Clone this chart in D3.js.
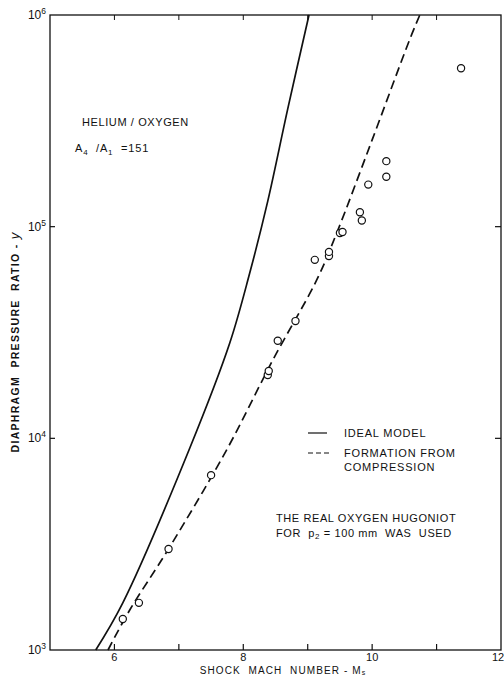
<!DOCTYPE html>
<html><head><meta charset="utf-8">
<script src="https://cdn.jsdelivr.net/npm/d3@7"></script>
<style>
html,body{margin:0;padding:0;background:#fff;}
svg{display:block;}
text{font-family:"Liberation Sans",Arial,sans-serif;fill:#111;}
</style></head>
<body>
<svg id="c" width="504" height="676"></svg>
<script>
// Ideal model (solid) curve
const idealM = [5.71, 6.13, 7.17, 7.79, 8.10, 8.38, 8.69, 9.02];
const idealP = [1000, 1670, 9000, 28200, 60400, 132000, 360000, 1000000];
// Formation from compression (dashed) curve
const dashM = [5.90, 6.24, 6.83, 7.74, 8.46, 9.14, 9.45, 10.0, 10.58, 10.74];
const dashP = [1000, 1550, 2970, 8800, 23500, 56000, 93300, 257000, 762000, 1000000];
// Measured points
const ptM = [6.13, 6.38, 6.84, 7.50, 8.38, 8.395, 8.535, 8.81, 9.11, 9.33, 9.33, 9.50, 9.54, 9.81, 9.84, 9.94, 10.22, 10.22, 11.38];
const ptP = [1400, 1670, 3000, 6700, 19900, 20800, 28900, 35800, 69700, 72600, 76000, 93400, 94400, 117000, 107000, 158000, 172000, 204000, 560000];
// Ticks
const xTicks = [6, 7, 8, 9, 10, 11];
const xLabels = [6, 8, 10, 12];
const yLabels = [3, 4, 5, 6];

const svg = d3.select("#c");
const x = d3.scaleLinear().domain([5, 12]).range([50, 501]);
const y = d3.scaleLog().domain([1e3, 1e6]).range([650, 15]);

// frame
svg.append("rect").attr("x", 50).attr("y", 15).attr("width", 451).attr("height", 635)
  .attr("fill", "none").attr("stroke", "#111").attr("stroke-width", 1.3);

// bottom ticks (inward)
svg.selectAll(".bt").data(xTicks).enter().append("line")
  .attr("x1", d => x(d)).attr("x2", d => x(d)).attr("y1", 650).attr("y2", 644)
  .attr("stroke", "#111").attr("stroke-width", 1.2);
// top ticks
svg.selectAll(".tt").data(xTicks).enter().append("line")
  .attr("x1", d => x(d)).attr("x2", d => x(d)).attr("y1", 15).attr("y2", 20)
  .attr("stroke", "#111").attr("stroke-width", 1);
// left ticks
svg.selectAll(".lt").data([4, 5]).enter().append("line")
  .attr("x1", 50).attr("x2", 55).attr("y1", d => y(Math.pow(10, d))).attr("y2", d => y(Math.pow(10, d)))
  .attr("stroke", "#111").attr("stroke-width", 1.2);
// right ticks
svg.selectAll(".rt").data([4, 5]).enter().append("line")
  .attr("x1", 501).attr("x2", 495).attr("y1", d => y(Math.pow(10, d))).attr("y2", d => y(Math.pow(10, d)))
  .attr("stroke", "#111").attr("stroke-width", 1.2);

// x labels
svg.selectAll(".xl").data(xLabels).enter().append("text")
  .attr("x", d => d === 12 ? x(d) - 3 : x(d)).attr("y", 661).attr("text-anchor", "middle")
  .attr("font-size", 11).text(d => d);
svg.append("text").attr("x", 283).attr("y", 674).attr("text-anchor", "middle")
  .attr("font-size", 10).attr("letter-spacing", 1.1)
  .html('SHOCK&#160; MACH&#160; NUMBER - M<tspan font-size="7" dy="1">s</tspan>');

// y labels
yLabels.forEach(e => {
  const t = svg.append("text").attr("x", 46).attr("y", y(Math.pow(10, e)) + 4)
    .attr("text-anchor", "end").attr("font-size", 12);
  t.append("tspan").text("10");
  t.append("tspan").attr("font-size", 8.5).attr("dy", -5).text(e);
});

// y title
svg.append("text").attr("transform", "translate(19,342) rotate(-90)")
  .attr("text-anchor", "middle").attr("font-size", 10.5).attr("font-weight", "bold")
  .attr("letter-spacing", 1.3)
  .html('DIAPHRAGM&#160; PRESSURE&#160; RATIO - <tspan font-style="italic" font-size="13" font-weight="normal">y</tspan>');

// curves
const line = d3.line().x(d => x(d[0])).y(d => y(d[1])).curve(d3.curveCatmullRom.alpha(0.5));
svg.append("path").datum(idealM.map((m, i) => [m, idealP[i]]))
  .attr("d", line).attr("fill", "none").attr("stroke", "#111").attr("stroke-width", 1.7);
svg.append("path").datum(dashM.map((m, i) => [m, dashP[i]]))
  .attr("d", line).attr("fill", "none").attr("stroke", "#111").attr("stroke-width", 1.7)
  .attr("stroke-dasharray", "9,5");

// points
svg.selectAll(".pt").data(ptM.map((m, i) => [m, ptP[i]])).enter().append("circle")
  .attr("cx", d => x(d[0])).attr("cy", d => y(d[1])).attr("r", 3.6)
  .attr("fill", "#fff").attr("stroke", "#111").attr("stroke-width", 1.2);

// annotations
svg.append("text").attr("x", 82).attr("y", 126).attr("font-size", 11).attr("letter-spacing", 0.6)
  .text("HELIUM / OXYGEN");
svg.append("text").attr("x", 75).attr("y", 152).attr("font-size", 11).attr("letter-spacing", 0.8)
  .html('A<tspan font-size="8" dy="3">4</tspan><tspan dy="-3">&#160; /A</tspan><tspan font-size="8" dy="3">1</tspan><tspan dy="-3">&#160; =151</tspan>');

// legend
svg.append("line").attr("x1", 308).attr("x2", 327).attr("y1", 433).attr("y2", 433)
  .attr("stroke", "#111").attr("stroke-width", 1.2);
svg.append("line").attr("x1", 308).attr("x2", 329).attr("y1", 453).attr("y2", 453)
  .attr("stroke", "#111").attr("stroke-width", 1.2).attr("stroke-dasharray", "5,3");
svg.append("text").attr("x", 344).attr("y", 437).attr("font-size", 11).attr("letter-spacing", 0.8).text("IDEAL  MODEL");
svg.append("text").attr("x", 344).attr("y", 457).attr("font-size", 11).attr("letter-spacing", 0.8).text("FORMATION  FROM");
svg.append("text").attr("x", 344).attr("y", 471).attr("font-size", 11).attr("letter-spacing", 0.8).text("COMPRESSION");

svg.append("text").attr("x", 276).attr("y", 522).attr("font-size", 11).attr("letter-spacing", 0.6)
  .text("THE  REAL OXYGEN  HUGONIOT");
svg.append("text").attr("x", 276).attr("y", 537).attr("font-size", 11).attr("letter-spacing", 0.6)
  .html('FOR&#160; p<tspan font-size="8" dy="2">2</tspan><tspan dy="-2"> = 100 mm&#160; WAS&#160; USED</tspan>');
</script>
</body></html>
